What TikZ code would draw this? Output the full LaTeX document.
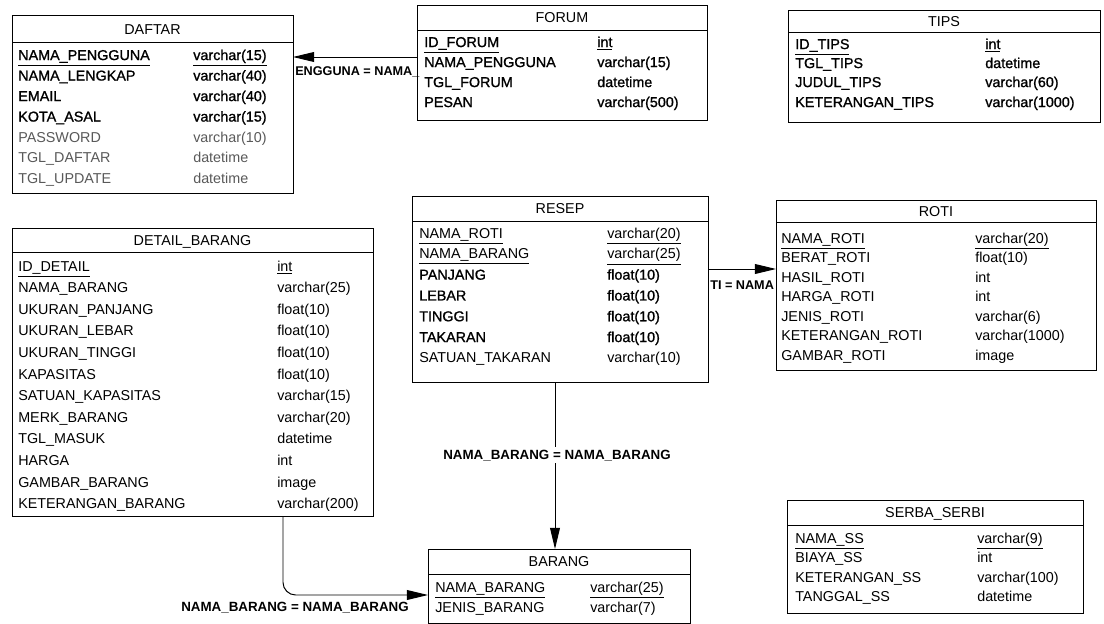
\documentclass[tikz,border=0pt]{standalone}
\usepackage{fontspec}
\setmainfont{Liberation Sans}
\newfontfamily\fbk[FakeBold=1.1]{Liberation Sans}
\usetikzlibrary{arrows.meta,calc}
\newcommand\ertbl[6]{% name, x1, y1, x2, y2, header y
  \node[tbox, anchor=north west, minimum width={(#4-#2)*0.025cm}, minimum height={(#5-#3)*0.025cm}] (#1) at (#2,#3) {};
  \draw[line width=0.7pt] (#2,#6) -- (#4,#6);}
\newcommand\errow[7]{% name, x1, x2, y, text1, text2, style
  \node[cell,#7] (#1a) at (#2,#4) {#5};
  \node[cell,#7] (#1b) at (#3,#4) {#6};}
\begin{document}
\begin{tikzpicture}[x=0.025cm,y=-0.025cm,
  tbox/.style={draw, line width=0.7pt, inner sep=0pt, outer sep=0pt},
  cell/.style={anchor=west, inner sep=0pt, text height=7.2pt, text depth=0pt, font=\fontsize{10.2}{12}\selectfont},
  ttl/.style={inner sep=0pt, text height=7.2pt, text depth=0pt, font=\fontsize{10.2}{12}\selectfont},
  bk/.style={font=\fbk\fontsize{10.2}{12}\selectfont},
  gr/.style={text=black!65},
  lbl/.style={inner sep=0pt, text height=6.5pt, text depth=0pt, font=\bfseries\fontsize{9}{10}\selectfont},
  lblw/.style={inner sep=0pt, text height=6.8pt, text depth=0pt, font=\bfseries\fontsize{9.5}{10}\selectfont},
  rel/.style={line width=0.7pt, -{Triangle[length=15pt,width=7pt]}}]
\fill[white] (0,0) rectangle (1104,624);
\useasboundingbox (0,0) rectangle (1104,624);

% DAFTAR
\ertbl{daftar}{12}{15}{293}{193}{42}
\node[ttl] (daftar-t) at (152.5,29) {DAFTAR};
\errow{d1}{18}{193}{55}{\underline{NAMA\_PENGGUNA}}{\underline{varchar(15)}}{bk}
\errow{d2}{18}{193}{75.5}{NAMA\_LENGKAP}{varchar(40)}{bk}
\errow{d3}{18}{193}{96}{EMAIL}{varchar(40)}{bk}
\errow{d4}{18}{193}{116.5}{KOTA\_ASAL}{varchar(15)}{bk}
\errow{d5}{18}{193}{137}{PASSWORD}{varchar(10)}{gr}
\errow{d6}{18}{193}{157.5}{TGL\_DAFTAR}{datetime}{gr}
\errow{d7}{18}{193}{178}{TGL\_UPDATE}{datetime}{gr}

% FORUM
\ertbl{forum}{417}{5}{707}{120}{30}
\node[ttl] (forum-t) at (562,17.5) {FORUM};
\errow{f1}{424}{597}{42}{\underline{ID\_FORUM}}{\underline{int}}{bk}
\errow{f2}{424}{597}{62}{NAMA\_PENGGUNA}{varchar(15)}{bk}
\errow{f3}{424}{597}{82}{TGL\_FORUM}{datetime}{bk}
\errow{f4}{424}{597}{102}{PESAN}{varchar(500)}{bk}

% TIPS
\ertbl{tips}{788}{10}{1100}{122}{32}
\node[ttl] (tips-t) at (944,21) {TIPS};
\errow{t1}{795}{985}{44}{\underline{ID\_TIPS}}{\underline{int}}{bk}
\errow{t2}{795}{985}{63}{TGL\_TIPS}{datetime}{bk}
\errow{t3}{795}{985}{82}{JUDUL\_TIPS}{varchar(60)}{bk}
\errow{t4}{795}{985}{102}{KETERANGAN\_TIPS}{varchar(1000)}{bk}

% DETAIL_BARANG
\ertbl{detail}{12}{228}{373}{516}{252}
\node[ttl] (detail-t) at (192.5,240) {DETAIL\_BARANG};
\errow{db1}{18}{277}{266}{\underline{ID\_DETAIL}}{\underline{int}}{}
\errow{db2}{18}{277}{287.6}{NAMA\_BARANG}{varchar(25)}{}
\errow{db3}{18}{277}{309.2}{UKURAN\_PANJANG}{float(10)}{}
\errow{db4}{18}{277}{330.8}{UKURAN\_LEBAR}{float(10)}{}
\errow{db5}{18}{277}{352.4}{UKURAN\_TINGGI}{float(10)}{}
\errow{db6}{18}{277}{374}{KAPASITAS}{float(10)}{}
\errow{db7}{18}{277}{395.6}{SATUAN\_KAPASITAS}{varchar(15)}{}
\errow{db8}{18}{277}{417.2}{MERK\_BARANG}{varchar(20)}{}
\errow{db9}{18}{277}{438.8}{TGL\_MASUK}{datetime}{}
\errow{db10}{18}{277}{460.4}{HARGA}{int}{}
\errow{db11}{18}{277}{482}{GAMBAR\_BARANG}{image}{}
\errow{db12}{18}{277}{503.6}{KETERANGAN\_BARANG}{varchar(200)}{}

% RESEP
\ertbl{resep}{412}{196}{708}{382}{221}
\node[ttl] (resep-t) at (560,208.5) {RESEP};
\errow{r1}{419}{607}{233}{\underline{NAMA\_ROTI}}{\underline{varchar(20)}}{}
\errow{r2}{419}{607}{253.8}{\underline{NAMA\_BARANG}}{\underline{varchar(25)}}{}
\errow{r3}{419}{607}{274.6}{PANJANG}{float(10)}{bk}
\errow{r4}{419}{607}{295.4}{LEBAR}{float(10)}{bk}
\errow{r5}{419}{607}{316.2}{TINGGI}{float(10)}{bk}
\errow{r6}{419}{607}{337}{TAKARAN}{float(10)}{bk}
\errow{r7}{419}{607}{357.8}{SATUAN\_TAKARAN}{varchar(10)}{}

% ROTI
\ertbl{roti}{776}{200}{1096}{370}{222}
\node[ttl] (roti-t) at (936,211) {ROTI};
\errow{ro1}{781}{975}{238}{\underline{NAMA\_ROTI}}{\underline{varchar(20)}}{}
\errow{ro2}{781}{975}{257.5}{BERAT\_ROTI}{float(10)}{}
\errow{ro3}{781}{975}{277}{HASIL\_ROTI}{int}{}
\errow{ro4}{781}{975}{296.5}{HARGA\_ROTI}{int}{}
\errow{ro5}{781}{975}{316}{JENIS\_ROTI}{varchar(6)}{}
\errow{ro6}{781}{975}{335.5}{KETERANGAN\_ROTI}{varchar(1000)}{}
\errow{ro7}{781}{975}{355}{GAMBAR\_ROTI}{image}{}

% BARANG
\ertbl{barang}{428}{549}{690}{623}{574}
\node[ttl] (barang-t) at (559,561.5) {BARANG};
\errow{b1}{435}{590}{587}{\underline{NAMA\_BARANG}}{\underline{varchar(25)}}{}
\errow{b2}{435}{590}{607.5}{JENIS\_BARANG}{varchar(7)}{}

% SERBA_SERBI
\ertbl{serba}{787}{500}{1083}{613}{525}
\node[ttl] (serba-t) at (935,512.5) {SERBA\_SERBI};
\errow{s1}{795}{977}{538}{\underline{NAMA\_SS}}{\underline{varchar(9)}}{}
\errow{s2}{795}{977}{557}{BIAYA\_SS}{int}{}
\errow{s3}{795}{977}{577}{KETERANGAN\_SS}{varchar(100)}{}
\errow{s4}{795}{977}{596}{TANGGAL\_SS}{datetime}{}

% relationships
\draw[rel] ($(forum.north west)+(0,52)$) -- ($(daftar.north east)+(0,42)$);
\node[lbl, anchor=west] (lab1) at (295,71) {ENGGUNA = NAMA\_};

\draw[rel] ($(resep.north east)+(0,73)$) -- ($(roti.north west)+(0,69)$);
\node[lbl, anchor=west] (lab2) at (710,285) {TI = NAMA};

\draw[rel] ($(resep.south west)+(143,0)$) -- ($(barang.north west)+(127,0)$);
\node[lblw, fill=white, inner sep=2pt] (lab3) at (557,455) {NAMA\_BARANG = NAMA\_BARANG};

\draw[rel, rounded corners=9pt] ($(detail.south west)+(271,0)$) |- ($(barang.north west)+(0,46)$);
\node[lblw] (lab4) at (295,607) {NAMA\_BARANG = NAMA\_BARANG};
\end{tikzpicture}
\end{document}
